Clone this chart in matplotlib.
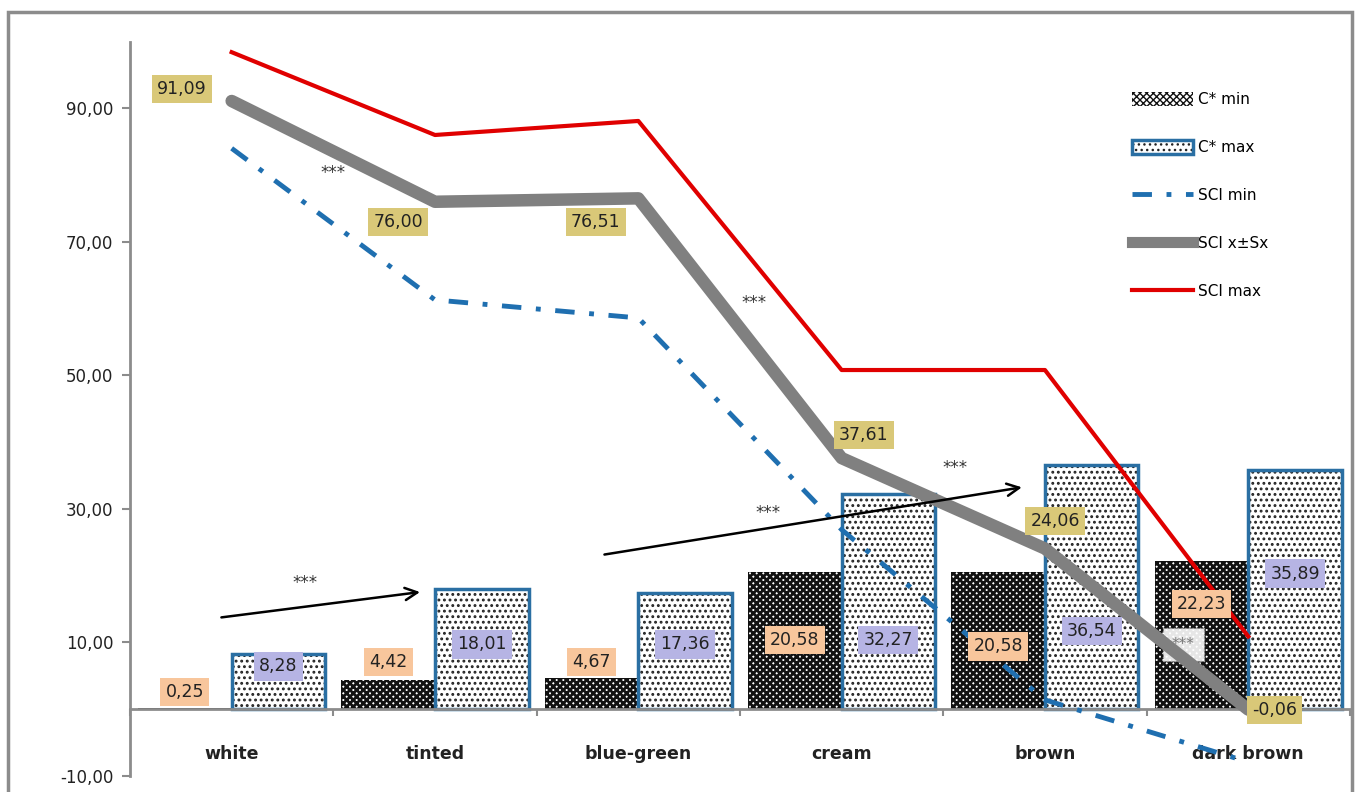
import numpy as np
import matplotlib.pyplot as plt
from matplotlib.patches import Rectangle, Patch
from matplotlib.lines import Line2D

plt.rcParams['font.family'] = 'DejaVu Sans'

categories = ['white', 'tinted', 'blue-green', 'cream', 'brown', 'dark brown']
c_min = [0.25, 4.42, 4.67, 20.58, 20.58, 22.23]
c_max = [8.28, 18.01, 17.36, 32.27, 36.54, 35.89]
sci_min = [84.0, 61.3, 58.6, 26.9, 1.4, -7.9]
sci_mean = [91.09, 76.00, 76.51, 37.61, 24.06, -0.06]
sci_max = [98.4, 86.0, 88.1, 50.8, 50.8, 10.9]

# where the value boxes sit
c_min_lab_y = [2.6, 7.1, 7.1, 10.4, 9.4, 15.8]
c_max_lab_y = [6.4, 9.7, 9.7, 10.4, 11.7, 20.3]
mean_lab_xy = [(-0.245, 92.9), (0.82, 73.0), (1.79, 73.0), (3.11, 41.1), (4.05, 28.2), (5.13, -0.1)]

x = np.arange(len(categories))
w = 0.46

fig = plt.figure(figsize=(13.57, 7.92), dpi=100)
ax = fig.add_axes([0.0958, 0.0202, 0.899, 0.9274])

# outer frame
fig.patches.append(Rectangle((8 / 1357, -0.05), 1344 / 1357, 1.05 - 12 / 792,
                             transform=fig.transFigure, fill=False,
                             edgecolor='#8c8c8c', lw=2.5))

# spine position first, it resets the tick setup
for s in ['top', 'right']:
    ax.spines[s].set_visible(False)
ax.spines['bottom'].set_position(('data', 0))
ax.spines['bottom'].set_color('#8c8c8c')
ax.spines['bottom'].set_linewidth(2)
ax.spines['left'].set_color('#8c8c8c')
ax.spines['left'].set_linewidth(2)

with plt.rc_context({'hatch.linewidth': 2.0}):
    ax.bar(x - w / 2, c_min, w, facecolor='white', edgecolor='#111111', hatch='xxxxx', lw=0, zorder=2)
    h_min = Patch(facecolor='white', edgecolor='#111111', hatch='xxxxx', lw=0)
with plt.rc_context({'hatch.linewidth': 1.3}):
    ax.bar(x + w / 2, c_max, w, facecolor='white', edgecolor='#222222', hatch='...', lw=0, zorder=2)
    h_max = Patch(facecolor='white', edgecolor='#222222', hatch='...', lw=0)
ax.bar(x + w / 2, c_max, w, facecolor='none', edgecolor='#2a6fa3', lw=2.5, zorder=2)

# *** box on dark brown
ax.text(4.68, 9.7, '***', ha='center', va='center', fontsize=11, color='#777777',
        bbox=dict(boxstyle='square,pad=0.6', fc='white', ec='#aaaaaa', ls=':', alpha=0.9), zorder=3)

ax.plot(x, sci_min, color='#1f6fb0', lw=3.5, ls=(0, (4, 3, 1, 3)), zorder=4)
ax.plot(x, sci_mean, color='#808080', lw=9, solid_capstyle='round', zorder=4)
ax.plot(x, sci_max, color='#e00000', lw=3, zorder=4)

box = dict(boxstyle='square,pad=0.3', lw=0)
for i in x:
    ax.text(i - w / 2, c_min_lab_y[i], f'{c_min[i]:.2f}'.replace('.', ','), ha='center', va='center',
            fontsize=12.5, color='#222222', bbox=dict(box, fc='#f8c69c'), zorder=5)
    ax.text(i + w / 2, c_max_lab_y[i], f'{c_max[i]:.2f}'.replace('.', ','), ha='center', va='center',
            fontsize=12.5, color='#222222', bbox=dict(box, fc='#b6b4e4'), zorder=5)
    mx, my = mean_lab_xy[i]
    ax.text(mx, my, f'{sci_mean[i]:.2f}'.replace('.', ','), ha='center', va='center',
            fontsize=12.5, color='#222222', bbox=dict(box, fc='#d9c878'), zorder=5)

# significance marks and trend arrows
for sx, sy in [(0.5, 80.3), (2.57, 60.8), (2.64, 29.4), (3.56, 36.1), (0.36, 18.9)]:
    ax.text(sx, sy, '***', ha='center', va='center', fontsize=12, color='#333333', zorder=5)
ax.annotate('', xy=(0.94, 17.6), xytext=(-0.064, 13.7),
            arrowprops=dict(arrowstyle='->', color='black', lw=1.8, mutation_scale=22), zorder=5)
ax.annotate('', xy=(3.90, 33.3), xytext=(1.82, 23.1),
            arrowprops=dict(arrowstyle='->', color='black', lw=1.8, mutation_scale=22), zorder=5)

ax.set_xlim(-0.5, 5.5)
ax.set_ylim(-10, 100)
ax.set_yticks([-10, 10, 30, 50, 70, 90])
ax.set_yticklabels([f'{v:.2f}'.replace('.', ',') for v in [-10, 10, 30, 50, 70, 90]], fontsize=12)
ax.set_xticks(x)
ax.set_xticklabels(categories, fontsize=12.5, fontweight='bold', color='#222222')
ax.set_xticks(np.arange(-0.5, 6, 1), minor=True)
ax.tick_params(axis='x', which='major', length=0, pad=26)
ax.tick_params(axis='x', which='minor', length=5, color='#8c8c8c', width=1.5)
ax.tick_params(axis='y', length=6, color='#8c8c8c', width=1.5, pad=6, labelcolor='#222222')

handles = [
    h_min,
    (h_max, Patch(facecolor='none', edgecolor='#2a6fa3', lw=2.5)),
    Line2D([], [], color='#1f6fb0', lw=3.5, ls=(0, (4, 3, 1, 3))),
    Line2D([], [], color='#808080', lw=8),
    Line2D([], [], color='#e00000', lw=3),
]
labels = ['C* min', 'C* max', 'SCI min', 'SCI x±Sx', 'SCI max']
ax.legend(handles, labels, loc='upper left', bbox_to_anchor=(0.81, 0.95), frameon=False,
          fontsize=11, labelspacing=2.15, handlelength=4.0, handleheight=1.0, handletextpad=0.3)

fig.savefig('out.png', dpi=100)
